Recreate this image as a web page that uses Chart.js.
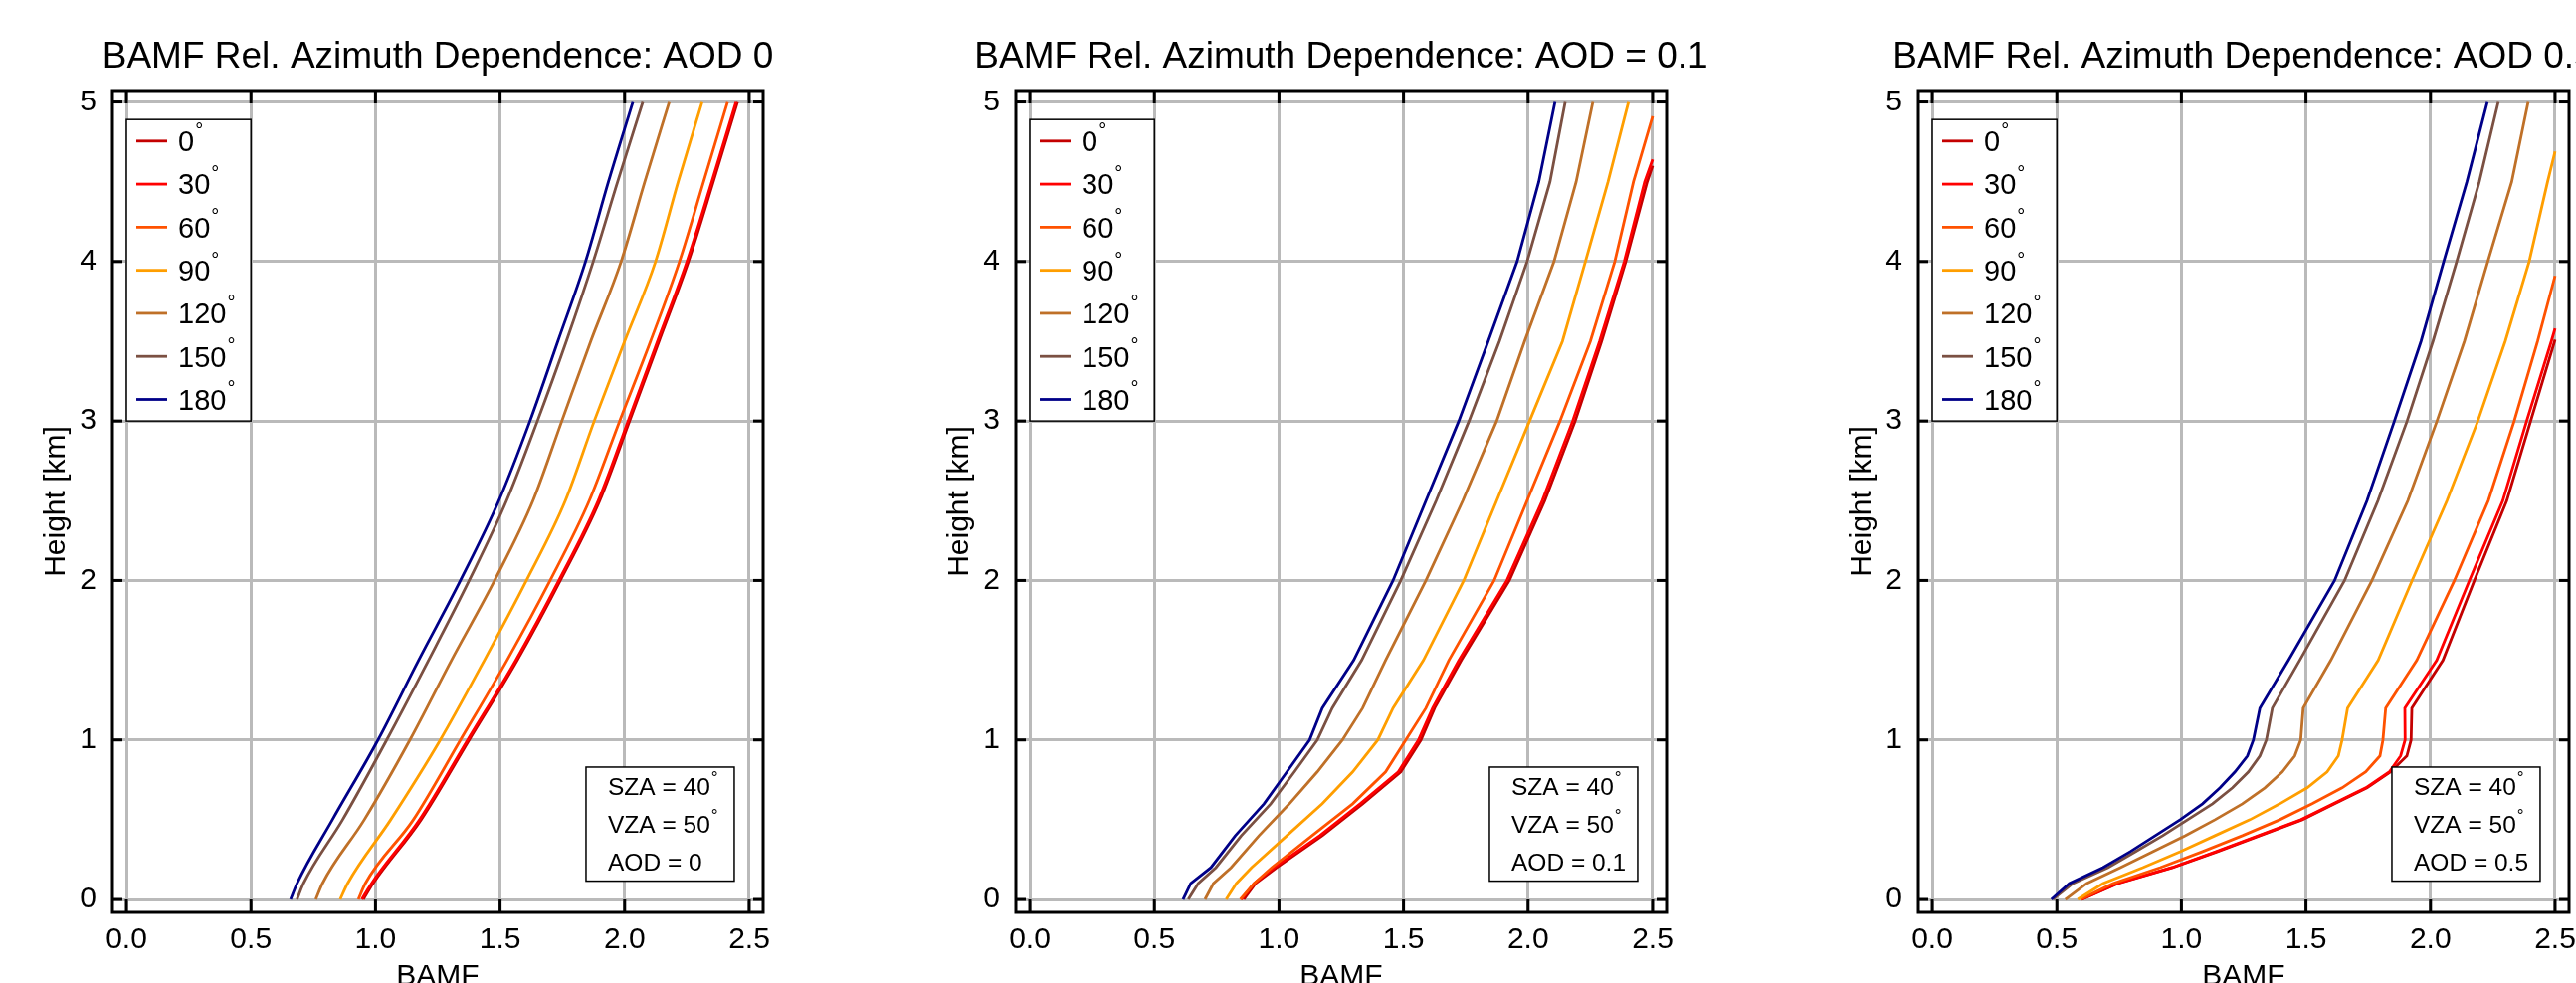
<!DOCTYPE html>
<html>
<head>
<meta charset="utf-8">
<script src="https://cdn.jsdelivr.net/npm/chart.js@4.4.1/dist/chart.umd.min.js"></script>
<style>
  body { margin: 0; background: #fff; width: 2589px; height: 988px; overflow: hidden; position: relative; }
  canvas { position: absolute; top: 0; }
</style>
</head>
<body>
<canvas id="panel0" width="907" height="988" style="left:0px"></canvas>
<canvas id="panel1" width="907" height="988" style="left:908px"></canvas>
<canvas id="panel2" width="907" height="988" style="left:1815px"></canvas>
<script>
// relative azimuth angles and their line colours
const angles = ['0', '30', '60', '90', '120', '150', '180'];
const colors = ['#c40000', '#ff0000', '#ff5200', '#ff9e00', '#bf7028', '#7b5042', '#000088'];

// AOD = 0 : BAMF at each height (km), one row per angle
const heightsAod0 = [0, 0.1, 0.5, 1, 1.5, 2, 2.5, 3, 3.5, 4, 4.5, 5];
const bamfAod0 = [
  [0.951, 0.990, 1.183, 1.376, 1.569, 1.742, 1.900, 2.020, 2.138, 2.256, 2.356, 2.453],
  [0.945, 0.984, 1.177, 1.370, 1.563, 1.736, 1.894, 2.014, 2.132, 2.250, 2.350, 2.447],
  [0.931, 0.959, 1.152, 1.341, 1.528, 1.701, 1.858, 1.980, 2.104, 2.220, 2.317, 2.413],
  [0.858, 0.888, 1.061, 1.260, 1.437, 1.606, 1.762, 1.878, 2.000, 2.124, 2.215, 2.311],
  [0.760, 0.787, 0.955, 1.138, 1.305, 1.478, 1.632, 1.748, 1.864, 1.986, 2.081, 2.179],
  [0.685, 0.711, 0.868, 1.045, 1.213, 1.376, 1.526, 1.650, 1.766, 1.874, 1.972, 2.073],
  [0.659, 0.685, 0.827, 1.010, 1.173, 1.341, 1.495, 1.620, 1.732, 1.843, 1.935, 2.033]
];
// height where a curve leaves the plot at BAMF = 2.5 (null = stays inside)
const exitAod0 = [null, null, null, null, null, null, null];

// AOD = 0.1
const heightsAod01 = [0, 0.1, 0.2, 0.4, 0.6, 0.8, 1.0, 1.2, 1.5, 2, 2.5, 3, 3.5, 4, 4.5, 5];
const bamfAod01 = [
  [0.859, 0.906, 0.991, 1.174, 1.336, 1.489, 1.570, 1.625, 1.732, 1.925, 2.067, 2.189, 2.295, 2.392, 2.478, null],
  [0.849, 0.900, 0.981, 1.164, 1.326, 1.479, 1.560, 1.617, 1.722, 1.915, 2.057, 2.179, 2.287, 2.386, 2.468, null],
  [0.845, 0.900, 0.971, 1.133, 1.296, 1.428, 1.509, 1.590, 1.682, 1.864, 1.996, 2.128, 2.250, 2.348, 2.423, null],
  [0.788, 0.829, 0.890, 1.032, 1.174, 1.296, 1.397, 1.458, 1.580, 1.742, 1.874, 2.006, 2.138, 2.230, 2.321, 2.403],
  [0.703, 0.737, 0.808, 0.920, 1.042, 1.154, 1.255, 1.336, 1.428, 1.590, 1.738, 1.874, 1.986, 2.104, 2.193, 2.260],
  [0.636, 0.676, 0.747, 0.849, 0.967, 1.062, 1.154, 1.214, 1.332, 1.489, 1.631, 1.763, 1.885, 1.996, 2.088, 2.149],
  [0.615, 0.646, 0.727, 0.825, 0.940, 1.032, 1.123, 1.174, 1.300, 1.458, 1.590, 1.722, 1.840, 1.956, 2.043, 2.108]
];
const exitAod01 = [4.60, 4.64, 4.91, null, null, null, null];

// AOD = 0.5
const heightsAod05 = [0, 0.1, 0.2, 0.3, 0.4, 0.5, 0.6, 0.7, 0.8, 0.9, 1.0, 1.2, 1.5, 2, 2.5, 3, 3.5, 4, 4.5, 5];
const bamfAod05 = [
  [0.600, 0.745, 0.965, 1.145, 1.315, 1.485, 1.615, 1.745, 1.840, 1.905, 1.922, 1.925, 2.050, 2.176, 2.306, 2.402, null, null, null, null],
  [0.598, 0.742, 0.962, 1.140, 1.310, 1.480, 1.610, 1.740, 1.835, 1.880, 1.898, 1.897, 2.025, 2.156, 2.290, 2.386, 2.485, null, null, null],
  [0.594, 0.725, 0.915, 1.085, 1.245, 1.395, 1.525, 1.645, 1.740, 1.797, 1.809, 1.820, 1.945, 2.096, 2.232, 2.336, 2.430, null, null, null],
  [0.584, 0.685, 0.845, 0.995, 1.135, 1.275, 1.395, 1.505, 1.585, 1.630, 1.645, 1.667, 1.790, 1.926, 2.066, 2.190, 2.300, 2.396, 2.470, null],
  [0.534, 0.620, 0.755, 0.885, 1.015, 1.135, 1.245, 1.335, 1.405, 1.455, 1.479, 1.489, 1.600, 1.765, 1.909, 2.026, 2.136, 2.230, 2.326, 2.392],
  [0.484, 0.564, 0.705, 0.815, 0.925, 1.025, 1.125, 1.205, 1.269, 1.315, 1.341, 1.365, 1.475, 1.655, 1.789, 1.906, 2.010, 2.105, 2.196, 2.272],
  [0.478, 0.550, 0.685, 0.795, 0.895, 0.995, 1.085, 1.155, 1.215, 1.265, 1.289, 1.315, 1.430, 1.615, 1.745, 1.855, 1.962, 2.053, 2.146, 2.228]
];
const exitAod05 = [3.51, 3.58, 3.91, 4.69, null, null, null];

const titles = [
  'BAMF Rel. Azimuth Dependence: AOD 0',
  'BAMF Rel. Azimuth Dependence: AOD = 0.1',
  'BAMF Rel. Azimuth Dependence: AOD 0.5'
];
const aodLabels = ['AOD = 0', 'AOD = 0.1', 'AOD = 0.5'];
const geometryLabels = ['SZA = 40°', 'VZA = 50°'];

const FONT = '"Liberation Sans", Arial, Helvetica, sans-serif';
const BAMF_MAX = 2.5;

Chart.defaults.font.family = FONT;
Chart.defaults.color = '#000';

// turn one row of readings into {x, y} points, ending at the plot edge if the curve leaves it
function buildPoints(heights, values, exitHeight) {
  const pts = [];
  heights.forEach((h, i) => {
    if (values[i] !== null) pts.push({ x: values[i], y: h });
  });
  if (exitHeight !== null) pts.push({ x: BAMF_MAX, y: exitHeight });
  return pts;
}

// text with a small raised degree ring like the original plot
function drawDegreeText(ctx, text, x, y, size) {
  const main = text.replace('°', '');
  ctx.font = size + 'px ' + FONT;
  ctx.fillText(main, x, y);
  if (text.indexOf('°') >= 0) {
    const w = ctx.measureText(main).width;
    ctx.font = Math.round(size * 0.7) + 'px ' + FONT;
    ctx.fillText('°', x + w + 1, y - size * 0.5);
  }
}

function line(ctx, x1, y1, x2, y2) {
  ctx.beginPath();
  ctx.moveTo(x1, y1);
  ctx.lineTo(x2, y2);
  ctx.stroke();
}

const decoPlugin = {
  id: 'deco',
  afterDatasetsDraw(chart, args, opts) {
    const ctx = chart.ctx;
    const xs = chart.scales.x, ys = chart.scales.y;
    const area = chart.chartArea;
    ctx.save();
    ctx.textAlign = 'left';
    ctx.textBaseline = 'alphabetic';

    // legend box, top left
    const lx0 = xs.getPixelForValue(0), lx1 = xs.getPixelForValue(0.5);
    const ly0 = ys.getPixelForValue(4.89), ly1 = ys.getPixelForValue(3.0);
    ctx.fillStyle = '#fff';
    ctx.fillRect(lx0, ly0, lx1 - lx0, ly1 - ly0);
    ctx.strokeStyle = '#000';
    ctx.lineWidth = 1.5;
    ctx.strokeRect(lx0, ly0, lx1 - lx0, ly1 - ly0);
    const n = chart.data.datasets.length;
    const rowH = (ly1 - ly0) / n;
    chart.data.datasets.forEach((ds, i) => {
      const cy = ly0 + (i + 0.5) * rowH;
      ctx.strokeStyle = ds.borderColor;
      ctx.lineWidth = 2.8;
      line(ctx, lx0 + 10, cy, lx0 + 41, cy);
      ctx.fillStyle = '#000';
      drawDegreeText(ctx, ds.label, lx0 + 52, cy + 10.4, 29);
    });

    // geometry box, bottom right
    const bx0 = xs.getPixelForValue(1.845), bx1 = xs.getPixelForValue(2.44);
    const by0 = ys.getPixelForValue(0.83), by1 = ys.getPixelForValue(0.115);
    ctx.fillStyle = '#fff';
    ctx.fillRect(bx0, by0, bx1 - bx0, by1 - by0);
    ctx.strokeStyle = '#000';
    ctx.lineWidth = 1.5;
    ctx.strokeRect(bx0, by0, bx1 - bx0, by1 - by0);
    ctx.fillStyle = '#000';
    opts.info.forEach((txt, i) => {
      const cy = by0 + (i + 0.5) * (by1 - by0) / opts.info.length;
      drawDegreeText(ctx, txt, bx0 + 22, cy + 8.8, 24.5);
    });

    // frame with inward ticks on all four sides
    ctx.strokeStyle = '#000';
    ctx.lineWidth = 3;
    ctx.strokeRect(area.left, area.top, area.right - area.left, area.bottom - area.top);
    xs.ticks.forEach(t => {
      const px = xs.getPixelForValue(t.value);
      line(ctx, px, area.bottom, px, area.bottom - 13);
      line(ctx, px, area.top, px, area.top + 13);
    });
    ys.ticks.forEach(t => {
      const py = ys.getPixelForValue(t.value);
      line(ctx, area.left, py, area.left + 10, py);
      line(ctx, area.right, py, area.right - 10, py);
    });
    ctx.restore();
  },
  afterDraw(chart, args, opts) {
    const ctx = chart.ctx;
    const area = chart.chartArea;
    ctx.save();
    ctx.font = '37px ' + FONT;
    ctx.fillStyle = '#000';
    ctx.textAlign = 'center';
    ctx.textBaseline = 'alphabetic';
    ctx.fillText(opts.title, (area.left + area.right) / 2, 68);
    ctx.restore();
  }
};

function makePanel(canvasId, heights, bamf, exits, title, aodLabel, smooth) {
  const datasets = angles.map((a, i) => ({
    label: a + '°',
    data: buildPoints(heights, bamf[i], exits[i]),
    borderColor: colors[i],
    borderWidth: 2.8,
    pointRadius: 0,
    tension: 0,
    cubicInterpolationMode: smooth ? 'monotone' : 'default',
    fill: false,
    order: -i
  }));

  new Chart(document.getElementById(canvasId), {
    type: 'line',
    data: { datasets: datasets },
    options: {
      responsive: false,
      animation: false,
      events: [],
      layout: { padding: { left: 0, right: 140, top: 91, bottom: 0 } },
      plugins: {
        legend: { display: false },
        tooltip: { enabled: false },
        deco: { title: title, info: geometryLabels.concat([aodLabel]) }
      },
      scales: {
        x: {
          type: 'linear',
          min: -0.056,
          max: 2.556,
          afterFit: s => { s.height = 71; },
          grid: { color: '#bababa', lineWidth: 3, drawTicks: false },
          border: { display: false },
          ticks: {
            stepSize: 0.5,
            includeBounds: false,
            padding: 10,
            color: '#000',
            font: { size: 30 },
            callback: v => v.toFixed(1)
          },
          title: {
            display: true,
            text: 'BAMF',
            color: '#000',
            font: { size: 30 },
            padding: { top: 0, bottom: -12 }
          }
        },
        y: {
          type: 'linear',
          min: -0.081,
          max: 5.072,
          afterFit: s => { s.width = 113; },
          grid: { color: '#bababa', lineWidth: 3, drawTicks: false },
          border: { display: false },
          ticks: {
            stepSize: 1,
            includeBounds: false,
            padding: 16,
            color: '#000',
            font: { size: 30 }
          },
          title: {
            display: true,
            text: 'Height [km]',
            color: '#000',
            font: { size: 30 },
            padding: { top: 39, bottom: 0 }
          }
        }
      }
    },
    plugins: [decoPlugin]
  });
}

makePanel('panel0', heightsAod0, bamfAod0, exitAod0, titles[0], aodLabels[0], true);
makePanel('panel1', heightsAod01, bamfAod01, exitAod01, titles[1], aodLabels[1], false);
makePanel('panel2', heightsAod05, bamfAod05, exitAod05, titles[2], aodLabels[2], false);
</script>
</body>
</html>
